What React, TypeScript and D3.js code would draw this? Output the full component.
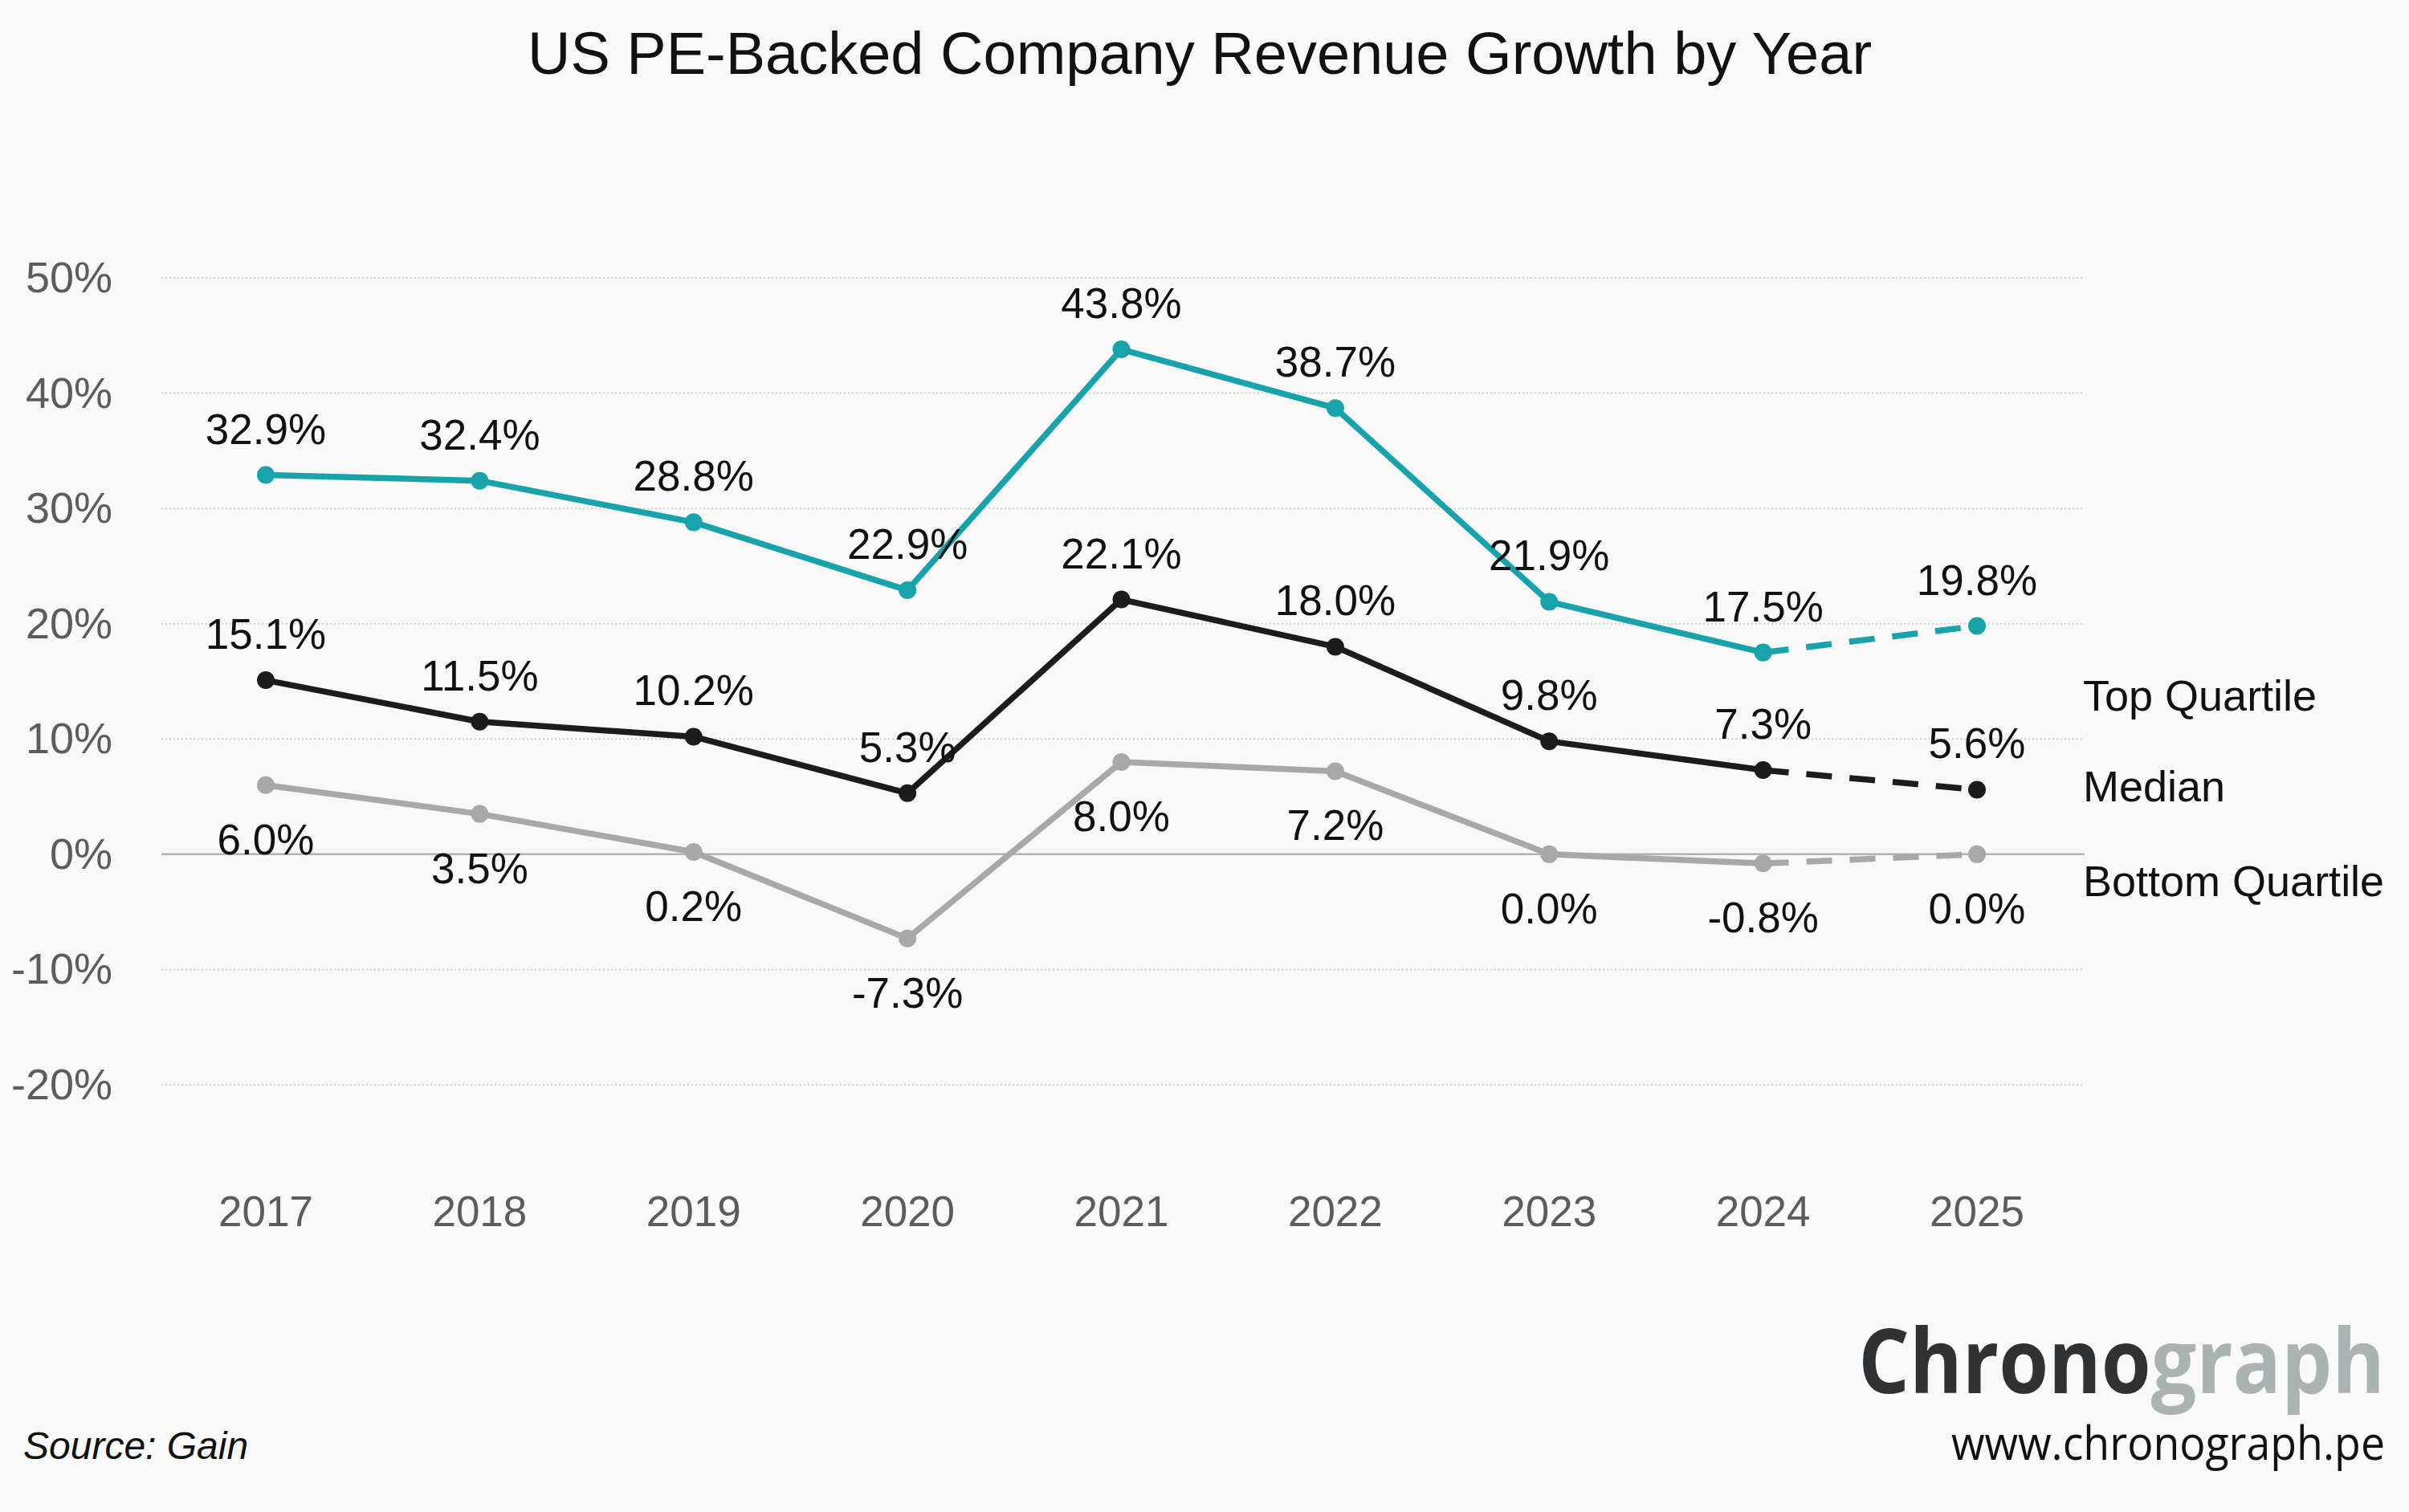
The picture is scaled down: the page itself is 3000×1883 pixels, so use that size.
import * as d3 from 'd3';

const years = ['2017', '2018', '2019', '2020', '2021', '2022', '2023', '2024', '2025'];
const topQuartile = [32.9, 32.4, 28.8, 22.9, 43.8, 38.7, 21.9, 17.5, 19.8];
const median = [15.1, 11.5, 10.2, 5.3, 22.1, 18.0, 9.8, 7.3, 5.6];
const bottomQuartile = [6.0, 3.5, 0.2, -7.3, 8.0, 7.2, 0.0, -0.8, 0.0];
const yTicks = [50, 40, 30, 20, 10, 0, -10, -20];
// the last year is a projection, drawn dashed
const projectedFrom = 7;

const W = 3000;
const H = 1883;
const FONT = '"Liberation Sans", Arial, sans-serif';
const LOGO_FONT = '"Open Sans", "DejaVu Sans", sans-serif';

const series = [
  { name: 'Top Quartile', values: topQuartile, color: '#17a3a9', labelPos: 'above', legendY: 885 },
  { name: 'Median', values: median, color: '#1c1c1c', labelPos: 'above', legendY: 998 },
  { name: 'Bottom Quartile', values: bottomQuartile, color: '#a8a8a8', labelPos: 'below', legendY: 1116 },
];

export default function App() {
  const x = d3.scalePoint<string>().domain(years).range([331, 2462]);
  const y = d3.scaleLinear().domain([-20, 50]).range([1351, 346]);

  const line = d3.line<number>()
    .x((_, i) => x(years[i]) as number)
    .y(d => y(d));

  const dashedLine = d3.line<number>()
    .defined(d => !isNaN(d))
    .x((_, i) => x(years[i]) as number)
    .y(d => y(d));

  const gridLeft = 201;
  const gridRight = 2596;

  return (
    <div style={{ position: 'absolute', left: 0, top: 0 }}>
      <svg width={W} height={H} style={{ display: 'block', background: '#f8f8f8' }}>
        <rect width={W} height={H} fill="#f8f8f8" />

        <text x={1494} y={92} textAnchor="middle" fontFamily={FONT} fontSize={74} fill="#111">
          US PE-Backed Company Revenue Growth by Year
        </text>

        {/* grid */}
        {yTicks.map(t => (
          <g key={t}>
            <line
              x1={gridLeft}
              x2={gridRight}
              y1={y(t)}
              y2={y(t)}
              stroke={t === 0 ? '#b3b3b3' : '#d2d2d2'}
              strokeWidth={t === 0 ? 2.5 : 2}
              strokeDasharray={t === 0 ? undefined : '2 3'}
            />
            <text x={140} y={y(t) + 18} textAnchor="end" fontFamily={FONT} fontSize={54} fill="#5c5c5c">
              {t}%
            </text>
          </g>
        ))}

        {years.map(yr => (
          <text key={yr} x={x(yr)} y={1527} textAnchor="middle" fontFamily={FONT} fontSize={53} fill="#5c5c5c">
            {yr}
          </text>
        ))}

        {series.map(s => {
          const solid = s.values.slice(0, projectedFrom + 1);
          const dashed = s.values.map((v, i) => (i >= projectedFrom ? v : NaN));
          return (
            <g key={s.name}>
              <path d={line(solid) ?? ''} fill="none" stroke={s.color} strokeWidth={7.5} strokeLinejoin="round" />
              <path d={dashedLine(dashed) ?? ''} fill="none" stroke={s.color} strokeWidth={7.5} strokeDasharray="32 22" />
              {s.values.map((v, i) => (
                <circle key={i} cx={x(years[i])} cy={y(v)} r={11} fill={s.color} />
              ))}
              {s.values.map((v, i) => (
                <text
                  key={'l' + i}
                  x={x(years[i])}
                  y={s.labelPos === 'above' ? y(v) - 39 : y(v) + 86}
                  textAnchor="middle"
                  fontFamily={FONT}
                  fontSize={53}
                  fill="#111"
                >
                  {v.toFixed(1)}%
                </text>
              ))}
              <text x={2594} y={s.legendY} fontFamily={FONT} fontSize={54} fill="#111">
                {s.name}
              </text>
            </g>
          );
        })}

        <text x={29} y={1817} fontFamily={FONT} fontSize={48} fontStyle="italic" fill="#111">
          Source: Gain
        </text>

        {/* logo, squeezed horizontally to match the narrow brand font */}
        <g transform="translate(2970,1735) scale(0.893,1)">
          <text x={0} y={0} textAnchor="end" fontFamily={LOGO_FONT} fontWeight={700} fontSize={112}>
            <tspan fill="#2f3133">Chrono</tspan>
            <tspan fill="#aab2b2">graph</tspan>
          </text>
        </g>
        <g transform="translate(2970,1818) scale(0.909,1)">
          <text x={0} y={0} textAnchor="end" fontFamily={LOGO_FONT} fontSize={59} fill="#111">
            www.chronograph.pe
          </text>
        </g>
      </svg>
    </div>
  );
}
